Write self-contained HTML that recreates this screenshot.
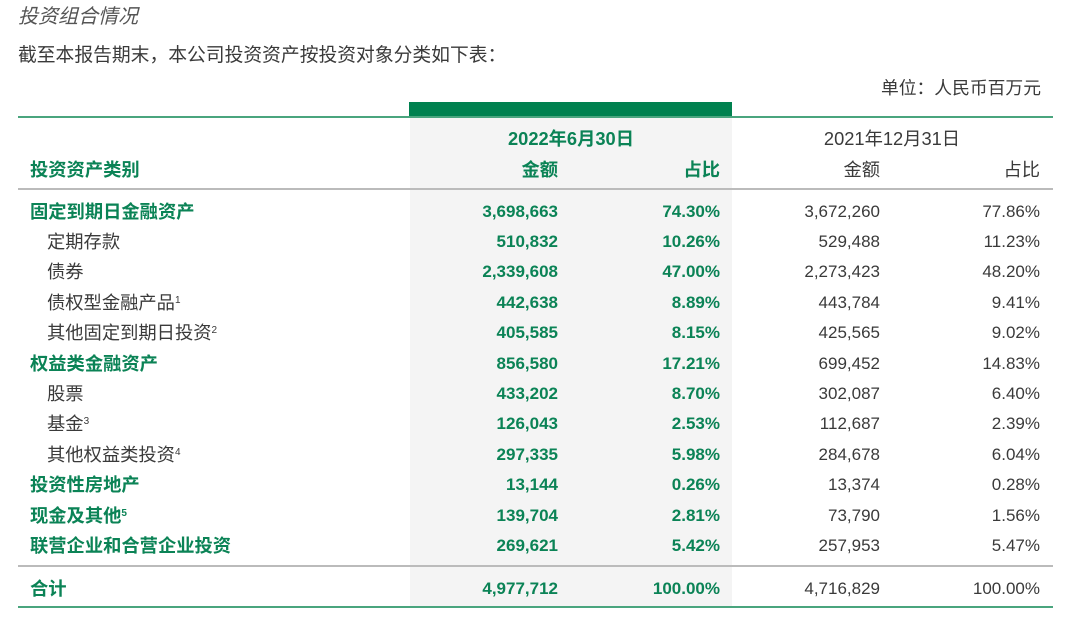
<!DOCTYPE html>
<html><head><meta charset="utf-8"><style>
body{margin:0;width:1080px;height:625px;background:#fff;position:relative;overflow:hidden;font-family:"Liberation Sans","Noto Sans CJK SC",sans-serif;color:#3a3a3a}
.a{position:absolute;white-space:nowrap;font-size:17px;line-height:20px}
.c{font-size:18.3px}
.g{color:#0b8356;font-weight:bold}
.r{text-align:right}
sup{font-size:10px;vertical-align:6px;line-height:0}
</style></head><body>
<div class="a" style="left:18px;top:7px;font-size:20px;font-style:italic;color:#555">投资组合情况</div>
<div class="a" style="left:18px;top:45px;font-size:18.8px">截至本报告期末，本公司投资资产按投资对象分类如下表：</div>
<div class="a" style="right:39px;top:78px;font-size:17.8px">单位：人民币百万元</div>
<div style="position:absolute;left:410px;top:117px;width:322px;height:490px;background:#f4f4f4"></div>
<div style="position:absolute;left:409px;top:102px;width:323px;height:15px;background:#00814f"></div>
<div style="position:absolute;left:18px;top:116px;width:1035px;height:2px;background:#4aa57e"></div>
<div style="position:absolute;left:18px;top:188px;width:1035px;height:2px;background:#bbb"></div>
<div style="position:absolute;left:18px;top:565px;width:1035px;height:2px;background:#bbb"></div>
<div style="position:absolute;left:18px;top:606px;width:1035px;height:2px;background:#4aa57e"></div>
<div class="a g c" style="left:410px;width:322px;text-align:center;top:129px">2022年6月30日</div>
<div class="a c" style="left:732px;width:320px;text-align:center;top:129px">2021年12月31日</div>
<div class="a g c" style="left:30px;top:160px">投资资产类别</div>
<div class="a g r c" style="right:522px;top:160px">金额</div>
<div class="a g r c" style="right:360px;top:160px">占比</div>
<div class="a r c" style="right:200px;top:160px">金额</div>
<div class="a r c" style="right:40px;top:160px">占比</div>
<div id="rows"></div>
<script>
const labels=["固定到期日金融资产","定期存款","债券","债权型金融产品<sup>1</sup>","其他固定到期日投资<sup>2</sup>","权益类金融资产","股票","基金<sup>3</sup>","其他权益类投资<sup>4</sup>","投资性房地产","现金及其他<sup>5</sup>","联营企业和合营企业投资","合计"];
const isMain=[1,0,0,0,0,1,0,0,0,1,1,1,1];
const amt2022=["3,698,663","510,832","2,339,608","442,638","405,585","856,580","433,202","126,043","297,335","13,144","139,704","269,621","4,977,712"];
const pct2022=["74.30%","10.26%","47.00%","8.89%","8.15%","17.21%","8.70%","2.53%","5.98%","0.26%","2.81%","5.42%","100.00%"];
const amt2021=["3,672,260","529,488","2,273,423","443,784","425,565","699,452","302,087","112,687","284,678","13,374","73,790","257,953","4,716,829"];
const pct2021=["77.86%","11.23%","48.20%","9.41%","9.02%","14.83%","6.40%","2.39%","6.04%","0.28%","1.56%","5.47%","100.00%"];
const host=document.getElementById('rows');
labels.forEach((l,i)=>{
  const top=(i<12?201.5+i*30.4:578.5);
  const cells=[[l,'left:'+(isMain[i]?30:47)+'px',(isMain[i]?'g ':'')+'c','label'],[amt2022[i],'right:522px','g r','amount-2022'],[pct2022[i],'right:360px','g r','share-2022'],[amt2021[i],'right:200px','r','amount-2021'],[pct2021[i],'right:40px','r','share-2021']];
  cells.forEach(c=>{
    const d=document.createElement('div');
    d.className='a '+c[2];
    d.style.cssText=c[1]+';top:'+top+'px';
    d.innerHTML=c[0];
    
    
    host.appendChild(d);
  });
});
</script>
</body></html>
